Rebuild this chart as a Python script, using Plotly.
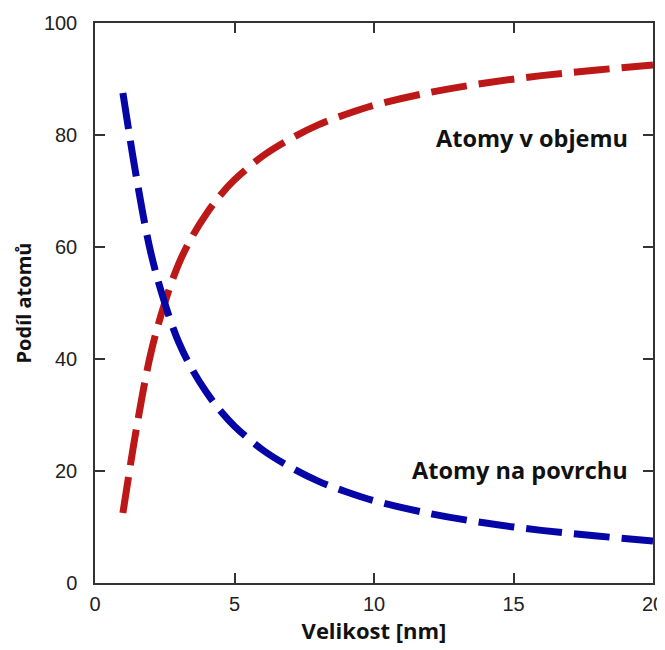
import plotly.graph_objects as go

size_nm = [1, 1.5, 2, 2.5, 3, 3.5, 4, 4.5, 5, 6, 7, 8, 9, 10, 12, 14, 16, 18, 20]
surface = [87.5, 72, 59, 50, 43, 38, 34, 30.7, 28, 23.8, 20.7, 18.2, 16.3, 14.7, 12.4, 10.7, 9.4, 8.4, 7.5]
volume = [12.5, 28, 41, 50, 57, 62, 66, 69.3, 72, 76.2, 79.3, 81.8, 83.7, 85.3, 87.6, 89.3, 90.6, 91.6, 92.5]

label_volume = "Atomy v objemu"
label_surface = "Atomy na povrchu"
x_title = "Velikost [nm]"
y_title = "Podíl atomů"
x_ticks = [0, 5, 10, 15, 20]
y_ticks = [0, 20, 40, 60, 80, 100]

fig = go.Figure()
fig.add_trace(go.Scatter(x=size_nm, y=volume, mode="lines", line_shape="spline",
                         line=dict(color="#bd1818", width=7, dash="36px,12px"),
                         name=label_volume, showlegend=False))
fig.add_trace(go.Scatter(x=size_nm, y=surface, mode="lines", line_shape="spline",
                         line=dict(color="#0606a6", width=7, dash="36px,12px"),
                         name=label_surface, showlegend=False))

fig.add_annotation(x=15.66, y=79.5, text=label_volume, showarrow=False,
                   font=dict(family="Open Sans", size=23.5, color="#111111", weight="bold"))
fig.add_annotation(x=15.25, y=20.1, text=label_surface, showarrow=False,
                   font=dict(family="Open Sans", size=23.5, color="#111111", weight="bold"))

axis_common = dict(showgrid=False, zeroline=False, showline=True, linecolor="#333333",
                   linewidth=1.5, mirror="ticks", ticks="inside", ticklen=10,
                   tickcolor="#333333", tickwidth=1.5, automargin=False,
                   tickfont=dict(family="Liberation Sans", size=20, color="#222222"))

fig.update_xaxes(range=[0, 20], tickvals=x_ticks, **axis_common, ticklabelstandoff=2,
                 title=dict(text=x_title, standoff=2,
                            font=dict(family="Open Sans", size=22, color="#111111", weight="bold")))
fig.update_yaxes(range=[0, 100], tickvals=y_ticks, **axis_common, ticklabelstandoff=12,
                 title=dict(text=y_title, standoff=7,
                            font=dict(family="Open Sans", size=20, color="#111111", weight="bold")))

fig.update_layout(width=657, height=642, plot_bgcolor="white", paper_bgcolor="white",
                  margin=dict(l=87, r=12, t=15, b=67))

fig.write_html("out.html")
